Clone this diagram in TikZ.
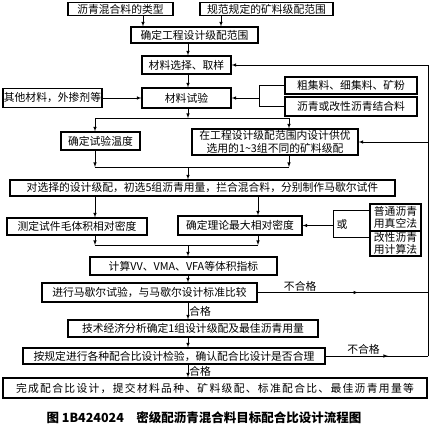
\documentclass[tikz,border=0pt]{standalone}
\usepackage{fontspec}
\setmainfont{Noto Sans CJK SC}
\usetikzlibrary{arrows.meta}
\usetikzlibrary{decorations.markings}
\tikzset{>=latex}
\tikzset{
  box/.style={draw, line width=1.1pt, inner sep=0pt, align=center, font=\fontsize{10.8}{12.5}\selectfont},
  flow/.style={->, line width=0.6pt},
  line/.style={line width=0.6pt},
  midarrow/.style={line width=0.6pt, decoration={markings, mark=at position #1 with {\arrow{latex}}}, postaction={decorate}},
  lbl/.style={font=\fontsize{10.8}{12}\selectfont, inner sep=1pt}
}

\begin{document}
\begin{tikzpicture}[x=1pt, y=-1pt]
    \useasboundingbox (0,0) rectangle (432,424);

    \coordinate (xa) at (143,0);
    \coordinate (xb) at (221,0);
    \coordinate (xm) at (188,0);
    \coordinate (xl) at (95,0);
    \coordinate (xr) at (289,0);
    \coordinate (xt) at (258,0);
    \coordinate (xg) at (259,0);
    \coordinate (xo) at (333,0);
    \coordinate (xe) at (428,0);
    \coordinate (ya) at (0,118);
    \coordinate (yb) at (0,167);
    \coordinate (yc) at (0,245);

    \node[box, minimum width=105, minimum height=12.5] (type) at (120.5,9) {沥青混合料的类型};
    \node[box, minimum width=133, minimum height=12.5] (range) at (266.5,9) {规范规定的矿料级配范围};
    \node[box, minimum width=127, minimum height=16] (proj) at (194.5,35) {确定工程设计级配范围};
    \node[box, minimum width=89, minimum height=18] (sel) at (186.5,65) {材料选择、取样};
    \node[box, minimum width=99, minimum height=19] (other) at (52.5,98) {其他材料，外掺剂等};
    \node[box, minimum width=89, minimum height=20] (test) at (186.5,98) {材料试验};
    \node[box, minimum width=132, minimum height=17] (coarse) at (351,85.5) {粗集料、细集料、矿粉};
    \node[box, minimum width=132, minimum height=19] (binder) at (351,106.5) {沥青或改性沥青结合料};
    \node[box, minimum width=79, minimum height=18] (temp) at (100.5,141) {确定试验温度};
    \node[box, minimum width=166, minimum height=26] (grad) at (275,142) {在工程设计级配范围内设计供优\\选用的1\textasciitilde3组不同的矿料级配};
    \node[box, minimum width=385, minimum height=16] (spec) at (202.5,188) {对选择的设计级配，初选5组沥青用量，拦合混合料，分别制作马歇尔试件};
    \node[box, minimum width=140, minimum height=17] (bulk) at (77,226.5) {测定试件毛体积相对密度};
    \node[box, minimum width=124, minimum height=19] (theo) at (240,225.5) {确定理论最大相对密度};
    \node[box, minimum width=51, minimum height=27] (vac) at (395.5,217.5) {普通沥青\\用真空法};
    \node[box, minimum width=51, minimum height=25] (calc) at (395.5,243.5) {改性沥青\\用计算法};
    \node[lbl] (or) at (342,224) {或};
    \node[box, minimum width=187, minimum height=18] (vol) at (183.5,266) {计算VV、VMA、VFA等体积指标};
    \node[box, minimum width=215, minimum height=19] (mar) at (149.5,292.5) {进行马歇尔试验，与马歇尔设计标准比较};
    \node[box, minimum width=250, minimum height=17] (opt) at (193,328.5) {技术经济分析确定1组设计级配及最佳沥青用量};
    \node[box, minimum width=302, minimum height=16] (chk) at (174,356) {按规定进行各种配合比设计检验，确认配合比设计是否合理};
    \node[box, minimum width=424, minimum height=20] (fin) at (215,388) {\addfontfeature{LetterSpace=12}完成配合比设计，提交材料品种、矿料级配、标准配合比、最佳沥青用量等};
    \node[font=\fontsize{12.5}{14}\selectfont\bfseries] (cap) at (204,418) {图 1B424024\quad 密级配沥青混合料目标配合比设计流程图};

    \draw[flow] (xa |- type.south) -- (xa |- proj.north);
    \draw[flow] (xb |- range.south) -- (xb |- proj.north);
    \draw[flow] (xm |- proj.south) -- (xm |- sel.north);
    \draw[flow] (xm |- sel.south) -- (xm |- test.north);
    \draw[flow] (other.east) -- (other.east -| test.west);
    \draw[line] (coarse.west) -- (xg |- coarse.west) -- (xg |- binder.west) -- (binder.west);
    \draw[flow] (xg |- test.east) -- (test.east);

    \draw[line] (xl |- ya) -- (xr |- ya);
    \draw[flow] (xm |- test.south) -- (xm |- ya);
    \draw[flow] (xl |- ya) -- (xl |- temp.north);
    \draw[flow] (xr |- ya) -- (xr |- grad.north);

    \draw[line] (xl |- yb) -- (xr |- yb);
    \draw[flow] (xl |- temp.south) -- (xl |- yb);
    \draw[flow] (xr |- grad.south) -- (xr |- yb);
    \draw[flow] (xm |- yb) -- (xm |- spec.north);

    \draw[flow] (xl |- spec.south) -- (xl |- bulk.north);
    \draw[flow] (xt |- spec.south) -- (xt |- theo.north);
    \draw[line] (vac.west |- 0,210) -- (xo |- 0,210) -- (xo |- 0,237) -- (calc.west |- 0,237);
    \draw[flow] (xo |- theo.east) -- (theo.east);

    \draw[line] (xl |- yc) -- (xt |- yc);
    \draw[flow] (xl |- bulk.south) -- (xl |- yc);
    \draw[flow] (xt |- theo.south) -- (xt |- yc);
    \draw[flow] (xm |- yc) -- (xm |- vol.north);

    \draw[flow] (xm |- vol.south) -- (xm |- mar.north);
    \draw[flow] (xm |- mar.south) -- (xm |- opt.north) node[lbl, midway, right] {合格};
    \draw[flow] (xm |- opt.south) -- (xm |- chk.north);
    \draw[flow] (xm |- chk.south) -- (xm |- fin.north) node[lbl, midway, right] {合格};

    \draw[midarrow=0.59] (mar.east) -- (xe |- mar.east) node[lbl, pos=0.25, above] {不合格};
    \draw[midarrow=0.61] (chk.east) -- (xe |- chk.east) node[lbl, pos=0.37, above] {不合格};
    \draw[line] (xe |- chk.east) -- (xe |- sel.east);
    \draw[flow] (xe |- sel.east) -- (sel.east);
    \draw[flow] (xe |- grad.east) -- (grad.east);

\end{tikzpicture}
\end{document}
